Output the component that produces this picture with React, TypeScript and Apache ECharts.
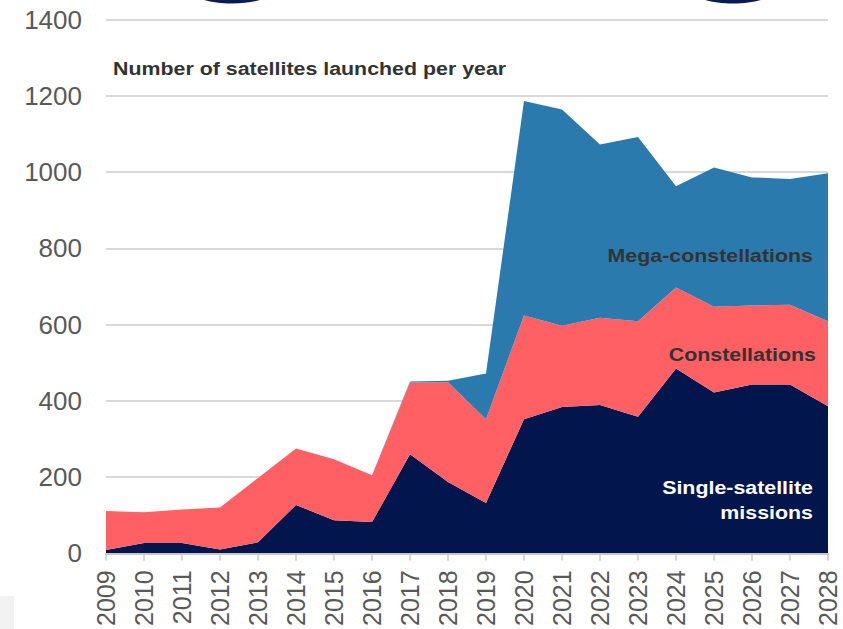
import React, { useEffect, useRef } from "react";
import * as echarts from "echarts";

const years = ["2009","2010","2011","2012","2013","2014","2015","2016","2017","2018","2019","2020","2021","2022","2023","2024","2025","2026","2027","2028"];
const singleSatellite = [9, 27, 27, 10, 29, 127, 87, 82, 260, 187, 132, 352, 384, 389, 358, 485, 422, 443, 443, 386];
const constellations = [102, 81, 88, 110, 169, 148, 160, 123, 188, 262, 220, 272, 213, 229, 251, 212, 225, 207, 209, 223];
const megaConstellations = [0, 0, 0, 0, 0, 0, 0, 0, 3, 4, 120, 562, 567, 454, 483, 266, 365, 336, 330, 388];

const FONT = "'Liberation Sans', Arial, sans-serif";
const SX = 1.125;

export default function App() {
  const ref = useRef<HTMLDivElement>(null);
  useEffect(() => {
    if (!ref.current) return;
    const chart = echarts.init(ref.current, null, { renderer: "svg" });
    const areaSeries = (name: string, data: number[], color: string) => ({
      name,
      type: "line",
      stack: "total",
      data,
      symbol: "none",
      lineStyle: { width: 0 },
      areaStyle: { color, opacity: 1 },
      itemStyle: { color },
      z: 2,
    });
    const label = (text: string, x: number, y: number, fill: string, size: number, align: string) => ({
      type: "text",
      x,
      y,
      scaleX: SX,
      style: { text, fill, font: `bold ${size}px ${FONT}`, textAlign: align, textVerticalAlign: "middle" },
      z: 10,
    });
    chart.setOption({
      animation: false,
      backgroundColor: "#ffffff",
      textStyle: { fontFamily: FONT },
      grid: { left: 106, right: 15, top: 19.5, bottom: 74.5, containLabel: false },
      xAxis: {
        type: "category",
        data: years,
        boundaryGap: false,
        axisLine: { show: true, lineStyle: { color: "#c8c8c8", width: 2 } },
        axisTick: { show: true, alignWithLabel: true, length: 7, lineStyle: { color: "#c8c8c8", width: 1.5 } },
        axisLabel: { rotate: 90, color: "#595959", fontSize: 25, fontFamily: FONT, margin: 17, interval: 0 },
        splitLine: { show: false },
        z: 3,
      },
      yAxis: {
        type: "value",
        min: 0,
        max: 1400,
        interval: 200,
        axisLine: { show: false },
        axisTick: { show: false },
        axisLabel: { color: "#595959", fontSize: 26, fontFamily: FONT, margin: 24, formatter: (v: number) => String(v) },
        splitLine: { show: true, lineStyle: { color: "#d9d9d9", width: 2 } },
      },
      series: [
        areaSeries("Single-satellite missions", singleSatellite, "#02154d"),
        areaSeries("Constellations", constellations, "#fe6064"),
        areaSeries("Mega-constellations", megaConstellations, "#2b7aae"),
      ],
      graphic: [
        { type: "ellipse", shape: { cx: 232, cy: -9, rx: 40, ry: 12.5 }, style: { fill: "#0b1a56" }, z: 10 },
        { type: "ellipse", shape: { cx: 733, cy: -9, rx: 40, ry: 12.5 }, style: { fill: "#0b1a56" }, z: 10 },
        { type: "rect", shape: { x: 0, y: 596, width: 14, height: 33 }, style: { fill: "#f2f2f2" }, z: 10 },
        label("Number of satellites launched per year", 113, 68, "#333333", 19, "left"),
        label("Mega-constellations", 813, 255, "#333333", 19, "right"),
        label("Constellations", 816, 354, "#333333", 19, "right"),
        label("Single-satellite", 813, 487, "#ffffff", 19, "right"),
        label("missions", 813, 512, "#ffffff", 19, "right"),
      ],
    });
    return () => chart.dispose();
  }, []);
  return <div ref={ref} style={{ width: 843, height: 629, position: "absolute", left: 0, top: 0 }} />;
}
